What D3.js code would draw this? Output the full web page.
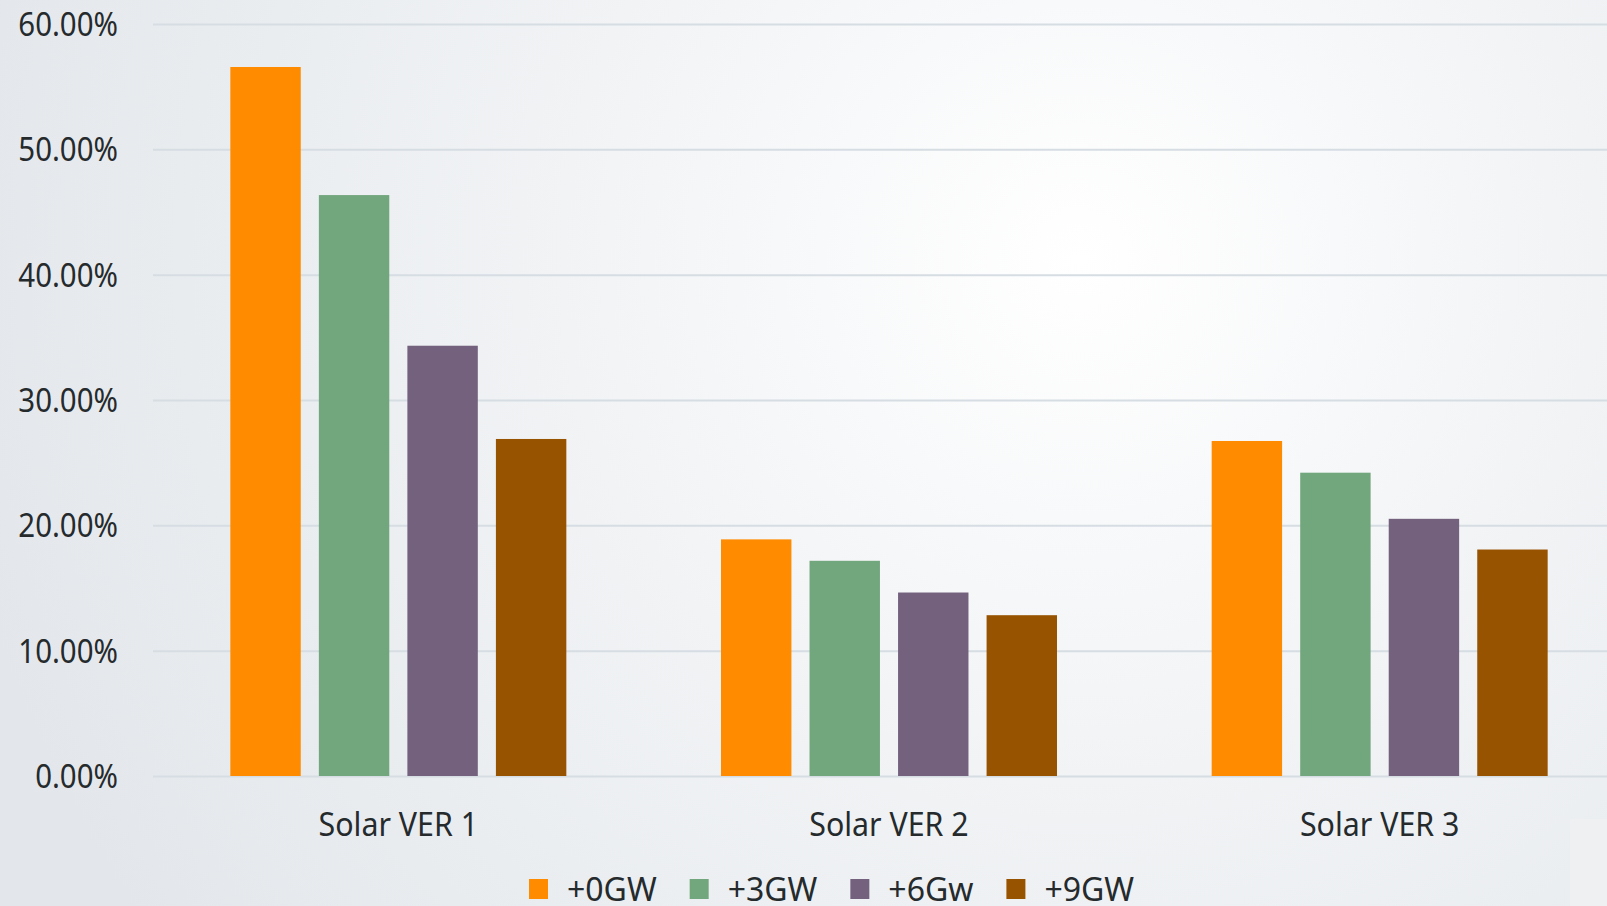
<!DOCTYPE html>
<html>
<head>
<meta charset="utf-8">
<script src="https://cdn.jsdelivr.net/npm/d3@7"></script>
<style>
  html, body { margin: 0; padding: 0; overflow: hidden; }
  svg text { font-family: "Noto Sans", "Open Sans", sans-serif; fill: #252a2d; }
</style>
</head>
<body>
<div id="chart"></div>
<script>
const categories = ["Solar VER 1", "Solar VER 2", "Solar VER 3"];
const seriesNames = ["+0GW", "+3GW", "+6Gw", "+9GW"];
const colors = ["#ff8c00", "#72a67d", "#74617e", "#985300"];

// share per category, one array per series
const plus0 = [0.5657, 0.1888, 0.2673];
const plus3 = [0.4635, 0.1717, 0.2420];
const plus6 = [0.3433, 0.1464, 0.2052];
const plus9 = [0.2689, 0.1283, 0.1807];
const seriesValues = [plus0, plus3, plus6, plus9];

const yTicks = [0, 0.1, 0.2, 0.3, 0.4, 0.5, 0.6];

const svgWidth = 1607;
const svgHeight = 906;

const margin = { top: 24, left: 153, bottom: 130 };
const plotRight = 1625; // plot runs past the right edge of the picture
const height = svgHeight - margin.top - margin.bottom;

const svg = d3.select("#chart")
    .append("svg")
    .attr("width", svgWidth)
    .attr("height", svgHeight);

// background
const defs = svg.append("defs");
const grad = defs.append("radialGradient")
    .attr("id", "bg")
    .attr("gradientUnits", "userSpaceOnUse")
    .attr("cx", 1080).attr("cy", 260).attr("r", 1150);
grad.append("stop").attr("offset", "0%").attr("stop-color", "#ffffff");
grad.append("stop").attr("offset", "45%").attr("stop-color", "#f1f3f5");
grad.append("stop").attr("offset", "100%").attr("stop-color", "#e3e7eb");

svg.append("rect")
    .attr("width", svgWidth).attr("height", svgHeight)
    .attr("fill", "url(#bg)");

svg.append("rect")
    .attr("x", 1570).attr("y", 819)
    .attr("width", svgWidth - 1570).attr("height", svgHeight - 819)
    .attr("fill", "#eff0f2");

const chartGroup = svg.append("g")
    .attr("transform", `translate(${margin.left}, ${margin.top})`);

const x0 = d3.scaleBand()
    .domain(categories)
    .range([0, plotRight - margin.left]);

const groupSpan = 336;
const x1 = d3.scaleBand()
    .domain(seriesNames)
    .range([x0.bandwidth() / 2 - groupSpan / 2, x0.bandwidth() / 2 + groupSpan / 2])
    .paddingInner(18 / 88);

const y = d3.scaleLinear()
    .domain([0, 0.6])
    .range([height, 0]);

// y axis with gridlines
const yAxis = chartGroup.append("g")
    .call(d3.axisLeft(y)
        .tickValues(yTicks)
        .tickFormat(d3.format(".2%"))
        .tickSize(-(plotRight - margin.left))
        .tickPadding(35));

yAxis.select(".domain").remove();
yAxis.selectAll(".tick line")
    .attr("stroke", "#d6dde3")
    .attr("stroke-width", 2);
yAxis.selectAll(".tick text")
    .attr("x", null)
    .attr("dy", "0.36em")
    .attr("transform", "translate(-35,0) scale(0.92,1)")
    .style("font-size", "32px")
    .style("fill", "#252a2d");

// bars
const groups = chartGroup.selectAll("g.cat")
    .data(categories)
    .enter()
    .append("g")
    .attr("class", "cat")
    .attr("transform", d => `translate(${x0(d)}, 0)`);

groups.selectAll("rect")
    .data((d, i) => seriesNames.map((s, j) => ({ s: s, v: seriesValues[j][i], c: colors[j] })))
    .enter()
    .append("rect")
    .attr("x", d => x1(d.s))
    .attr("width", x1.bandwidth())
    .attr("y", d => y(d.v))
    .attr("height", d => height - y(d.v))
    .attr("fill", d => d.c);

// category labels
chartGroup.selectAll("text.cat-label")
    .data(categories)
    .enter()
    .append("text")
    .attr("class", "cat-label")
    .attr("text-anchor", "middle")
    .attr("transform", d => `translate(${x0(d) + x0.bandwidth() / 2}, ${height + 60}) scale(0.92,1)`)
    .style("font-size", "33px")
    .text(d => d);

// legend
const legend = svg.append("g")
    .attr("transform", "translate(529, 889)");

let lx = 0;
seriesNames.forEach(function(name, i) {
    const item = legend.append("g").attr("transform", `translate(${lx}, 0)`);
    item.append("rect")
        .attr("x", 0).attr("y", -10)
        .attr("width", 19).attr("height", 20)
        .attr("fill", colors[i]);
    const t = item.append("text")
        .attr("x", 38)
        .attr("dy", "0.36em")
        .style("font-size", "32px")
        .text(name);
    lx += 38 + t.node().getComputedTextLength() + 33;
});
</script>
</body>
</html>
